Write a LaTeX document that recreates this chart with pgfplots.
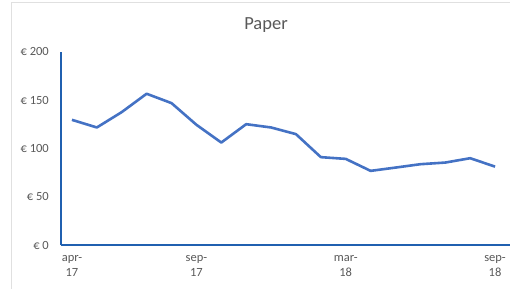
\documentclass[border=0pt]{standalone}
\usepackage{pgfplots}
\pgfplotsset{compat=1.18}
\usepackage{fontspec}
\setmainfont{Carlito}
\definecolor{serie}{HTML}{4472C4}
\definecolor{ax}{HTML}{2060B0}
\definecolor{txt}{HTML}{595959}
\begin{document}
\begin{tikzpicture}
\path[use as bounding box] (0pt,0pt) rectangle (510pt,289pt);
\draw[black!12, line width=1pt] (11pt,0pt) -- (11pt,286pt) -- (510pt,286pt);
\begin{axis}[
  at={(61pt,44pt)}, anchor=south west,
  scale only axis, width=449pt, height=193.3pt,
  xmin=-0.44, xmax=17.6, ymin=0, ymax=200,
  axis x line*=bottom, axis y line*=left,
  axis line style={ax, line width=1.8pt, -},
  major tick length=0pt,
  ytick={0,50,100,150,200},
  yticklabel={€ \pgfmathprintnumber{\tick}},
  /pgf/number format/assume math mode=true,
  yticklabel style={font=\fontsize{12.5}{13}\selectfont, text=txt, inner sep=0pt, xshift=-12pt},
  xtick={0,5,11,17},
  xticklabels={apr-\\17, sep-\\17, mar-\\18, sep-\\18},
  xticklabel style={font=\fontsize{12.5}{14.5}\selectfont, text=txt, align=center, inner sep=0pt, yshift=-10.5pt},
  clip=false,
]
\addplot[serie, line width=2.6pt, line join=round, mark=none] coordinates {
(0,129.5) (1,121.6) (2,137.5) (3,156.5) (4,146.8) (5,124.4) (6,106) (7,125)
(8,121.6) (9,114.7) (10,90.9) (11,89.1) (12,76.7) (13,80.1) (14,83.6) (15,85.3)
(16,89.8) (17,81.1)
};
\end{axis}
\node[anchor=base, text=txt, font=\fontsize{18.5}{20}\selectfont, inner sep=0pt] at (266pt,259pt) {Paper};
\end{tikzpicture}
\end{document}
